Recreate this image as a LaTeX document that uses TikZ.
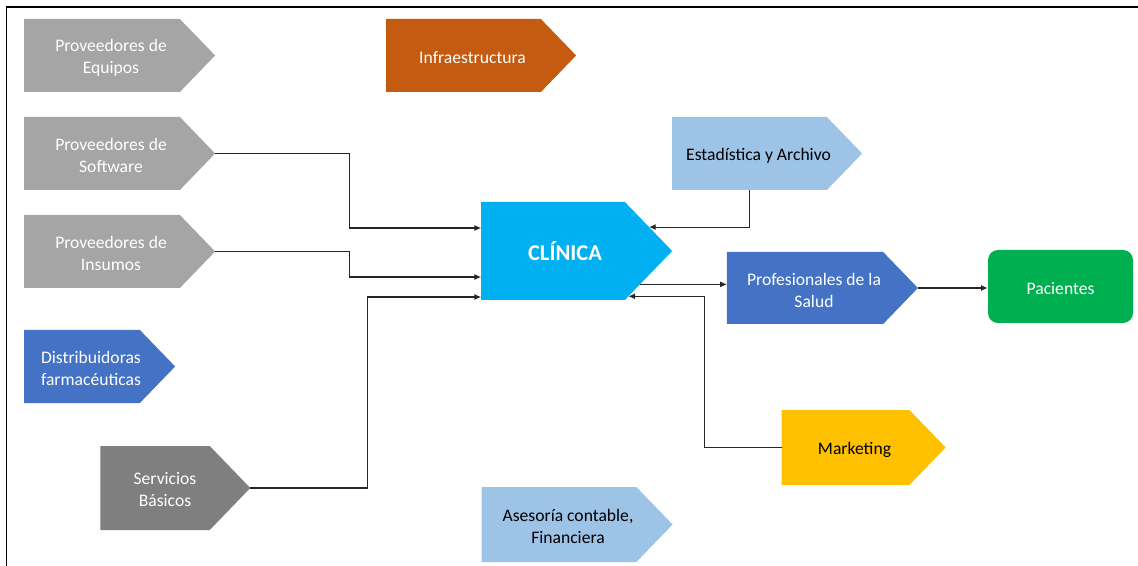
\documentclass[tikz,border=0pt]{standalone}
\usepackage{fontspec}
\setmainfont{Carlito}
\usepackage{tikz}
\usetikzlibrary{shapes.symbols,arrows.meta,calc}

\definecolor{gris}{HTML}{A5A5A5}
\definecolor{grisosc}{HTML}{7F7F7F}
\definecolor{naranja}{HTML}{C55A11}
\definecolor{azul}{HTML}{4472C4}
\definecolor{celeste}{HTML}{9DC3E6}
\definecolor{cian}{HTML}{00B0F0}
\definecolor{verde}{HTML}{00B050}
\definecolor{oro}{HTML}{FFC000}

\tikzset{
  chev/.style={signal, signal to=east, signal pointer angle=92, inner sep=0pt, outer sep=0pt, minimum height=54.75pt},
  txt/.style={font=\fontsize{13.2}{16.5}\selectfont, align=center, text=white, inner sep=0pt},
  lbl/.style={txt, xshift=6.75pt, yshift=-1.5pt},
  conn/.style={draw=black!85, line width=0.8pt, -{Latex[length=5pt,width=4.5pt]}}
}

\begin{document}
\begin{tikzpicture}[x=0.75pt,y=-0.75pt]
\useasboundingbox (0,0) rectangle (1138,566);
\draw [black, line width=1.3pt] (6.5,566) -- (6.5,7) -- (1138,7);

% proveedores
\node [chev, fill=gris, minimum width=143.25pt, label={[lbl]center:{Proveedores de\\Equipos}}] (equipos) at (102,55.5) {};
\node [chev, fill=gris, minimum width=143.25pt, label={[lbl]center:{Proveedores de\\Software}}] (soft) at (102,153.5) {};
\node [chev, fill=gris, minimum width=143.25pt, label={[lbl]center:{Proveedores de\\Insumos}}] (insumos) at (102,251.5) {};
\node [chev, fill=azul, minimum width=113.25pt, label={[lbl]center:{Distribuidoras\\farmacéuticas}}] (distrib) at (82,366.5) {};
\node [chev, fill=grisosc, minimum width=112.5pt, minimum height=63pt, label={[lbl, xshift=0.75pt]center:{Servicios\\Básicos}}] (serv) at (155,488) {};
\node [chev, fill=naranja, minimum width=142.5pt, label={[lbl]center:{Infraestructura}}] (infra) at (463.5,55.5) {};

% clinica
\node [chev, fill=cian, minimum width=143.25pt, minimum height=73.5pt, label={[txt, xshift=9pt, font=\fontsize{16.9}{20}\selectfont\bfseries]center:{CLÍNICA}}] (clinica) at (553,251) {};
\node [chev, fill=celeste, minimum width=142.5pt, label={[lbl, text=black]center:{Estadística y Archivo}}] (estad) at (749.5,153.5) {};
\node [chev, fill=azul, minimum width=143.25pt, minimum height=54pt, label={[lbl]center:{Profesionales de la\\Salud}}] (prof) at (805,288) {};
\node [chev, fill=oro, minimum width=123pt, minimum height=56.25pt, label={[lbl, text=black]center:{Marketing}}] (mark) at (845.5,447.5) {};
\node [chev, fill=celeste, minimum width=143.25pt, minimum height=56.25pt, label={[lbl, text=black]center:{Asesoría contable,\\Financiera}}] (ases) at (559,524.5) {};
\node [rectangle, rounded corners=7.5pt, fill=verde, minimum width=108.75pt, minimum height=54.75pt, label={[lbl, xshift=-6.75pt]center:{Pacientes}}] (pac) at (1060.5,286.5) {};

% conexiones
\draw [conn] (soft.east) -- ++(134,0) |- ($(clinica.west)+(0,-23)$);
\draw [conn] (insumos.east) -- ++(134,0) |- ($(clinica.west)+(0,26)$);
\draw [conn] (serv.east) -- ++(117,0) |- ($(clinica.west)+(0,46)$);
\draw [conn] (estad.south) |- (clinica.14);
\draw [conn] (clinica.-21) -- (clinica.-21 -| prof.west);
\draw [conn] (mark.west) -- ++(-77,0) |- (clinica.-31);
\draw [conn] (prof.east) -- (prof.east -| pac.west);
\end{tikzpicture}
\end{document}
